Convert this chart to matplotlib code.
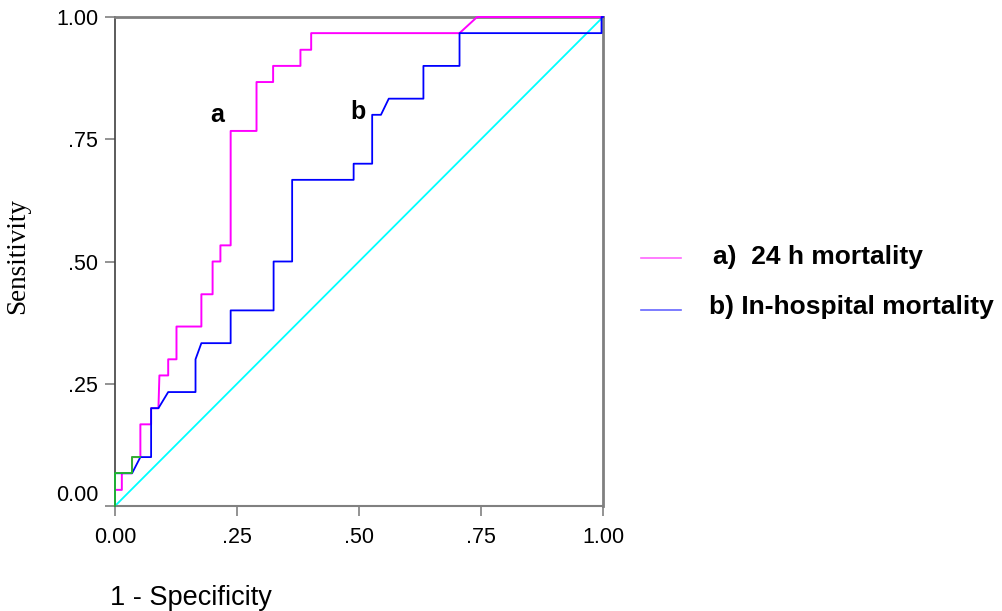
import matplotlib
matplotlib.use('Agg')
from matplotlib import pyplot as plt
from matplotlib.lines import Line2D
import matplotlib.transforms as mtransforms

plt.rcParams['font.family'] = ['Liberation Sans', 'DejaVu Sans']

# ROC curve a) 24 h mortality
fpr_a = [0.0, 0.0, 0.014, 0.014, 0.035, 0.035, 0.052, 0.052, 0.074, 0.074, 0.089, 0.091,
         0.109, 0.109, 0.126, 0.126, 0.177, 0.177, 0.20, 0.20, 0.216, 0.216, 0.237, 0.237,
         0.29, 0.29, 0.324, 0.324, 0.38, 0.38, 0.402, 0.402, 0.706, 0.742, 1.0]
tpr_a = [0.0, 0.033, 0.033, 0.067, 0.067, 0.10, 0.10, 0.167, 0.167, 0.20, 0.20, 0.267,
         0.267, 0.30, 0.30, 0.367, 0.367, 0.433, 0.433, 0.50, 0.50, 0.533, 0.533, 0.767,
         0.767, 0.867, 0.867, 0.90, 0.90, 0.933, 0.933, 0.967, 0.967, 1.0, 1.0]

# ROC curve b) in-hospital mortality
fpr_b = [0.0, 0.0, 0.035, 0.052, 0.074, 0.074, 0.089, 0.109, 0.165, 0.165, 0.177, 0.237,
         0.237, 0.325, 0.325, 0.363, 0.363, 0.489, 0.489, 0.527, 0.527, 0.545, 0.561,
         0.632, 0.632, 0.706, 0.706, 0.997, 0.997, 1.0]
tpr_b = [0.0, 0.067, 0.067, 0.10, 0.10, 0.20, 0.20, 0.233, 0.233, 0.30, 0.333, 0.333,
         0.40, 0.40, 0.50, 0.50, 0.667, 0.667, 0.70, 0.70, 0.80, 0.80, 0.833, 0.833,
         0.90, 0.90, 0.967, 0.967, 1.0, 1.0]

# short green reference piece at the origin
fpr_g = [0.0, 0.0, 0.035, 0.035, 0.052]
tpr_g = [0.0, 0.067, 0.067, 0.10, 0.10]

ticks = [0.0, 0.25, 0.5, 0.75, 1.0]
tick_labels = ['0.00', '.25', '.50', '.75', '1.00']

fig = plt.figure(figsize=(10.02, 6.11), dpi=100)
W, H = 1002, 611
ax = fig.add_axes([115 / W, (H - 506) / H, 488 / W, 489 / H])

ax.plot([0, 1], [0, 1], color='#00ffff', lw=1.3, zorder=1)
ax.plot(fpr_a, tpr_a, color='#ff00ff', lw=1.4, zorder=2.6, clip_on=False)
ax.plot(fpr_b, tpr_b, color='#0000ff', lw=1.3, zorder=2.7, clip_on=False)
ax.plot(fpr_g, tpr_g, color='#22c022', lw=1.3, zorder=2.8, clip_on=False)

ax.set_xlim(0, 1)
ax.set_ylim(0, 1)
ax.set_xticks(ticks)
ax.set_xticklabels(tick_labels)
ax.set_yticks(ticks)
ax.set_yticklabels(tick_labels)
ax.tick_params(axis='both', direction='out', length=7, width=1.2, color='#808080',
               labelsize=15.5, pad=5)
ax.tick_params(axis='x', pad=8)

# the 0.00 label on the y axis sits above its tick
lab0 = ax.get_yticklabels()[0]
lab0.set_transform(lab0.get_transform() + mtransforms.ScaledTranslation(0, 13 / 100, fig.dpi_scale_trans))

ax.spines['top'].set_color('#808080')
ax.spines['top'].set_linewidth(2)
ax.spines['right'].set_color('#808080')
ax.spines['right'].set_linewidth(2)
ax.spines['left'].set_color('#404040')
ax.spines['left'].set_linewidth(1.2)
ax.spines['bottom'].set_color('#808080')
ax.spines['bottom'].set_linewidth(1.5)

ax.text(0.21, 0.80, 'a', fontsize=18, fontweight='bold', ha='center', va='center')
ax.text(0.497, 0.806, 'b', fontsize=18, fontweight='bold', ha='center', va='center')

fig.text(18 / W, 1 - 256 / H, 'Sensitivity', rotation=90, ha='center', va='center',
         fontsize=19.5, family=['Liberation Serif', 'DejaVu Serif'])
fig.text(110 / W, 1 - 598 / H, '1 - Specificity', ha='left', va='center', fontsize=19.5)

# legend drawn beside the plot
fig.add_artist(Line2D([641 / W, 681 / W], [1 - 258 / H, 1 - 258 / H], color='#ff66ff', lw=1.2))
fig.add_artist(Line2D([641 / W, 681 / W], [1 - 310 / H, 1 - 310 / H], color='#6666ff', lw=1.2))
fig.text(713 / W, 1 - 257 / H, 'a)  24 h mortality', ha='left', va='center',
         fontsize=19, fontweight='bold')
fig.text(709 / W, 1 - 307 / H, 'b) In-hospital mortality', ha='left', va='center',
         fontsize=19, fontweight='bold')

fig.savefig('out.png', dpi=100)
